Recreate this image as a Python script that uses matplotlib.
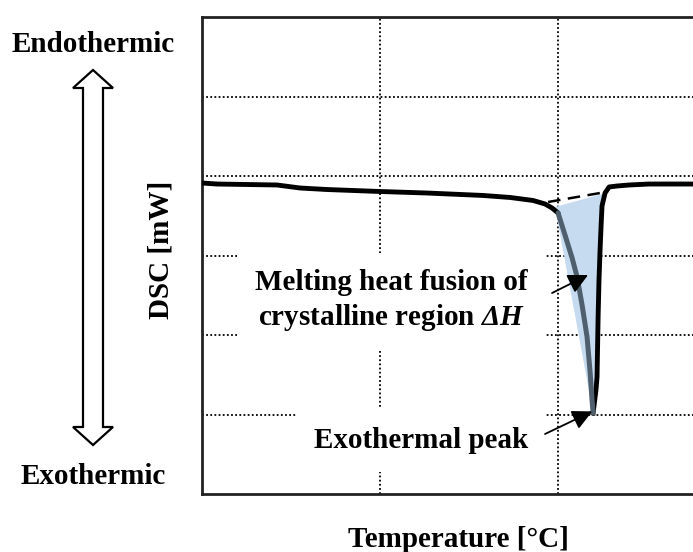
import matplotlib
matplotlib.use("Agg")
import matplotlib.pyplot as plt
from matplotlib.patches import Polygon

plt.rcParams["font.family"] = ["Liberation Serif", "DejaVu Serif"]
plt.rcParams["font.weight"] = "bold"
plt.rcParams["mathtext.fontset"] = "custom"
plt.rcParams["mathtext.it"] = "Liberation Serif:italic:bold"
plt.rcParams["mathtext.rm"] = "Liberation Serif:italic:bold"

# DSC trace (arbitrary temperature / heat-flow units)
baseline_T = [0.000, 0.084, 0.421, 0.551, 0.702, 1.000, 1.264, 1.579, 1.730, 1.860, 1.927, 1.966, 2.000]
baseline_Q = [3.912, 3.899, 3.887, 3.849, 3.830, 3.805, 3.786, 3.755, 3.730, 3.692, 3.648, 3.598, 3.535]

onset_T = [2.000, 2.039, 2.079, 2.107, 2.135, 2.163, 2.180, 2.191, 2.197]
onset_Q = [3.535, 3.258, 2.969, 2.730, 2.377, 1.975, 1.535, 1.182, 1.019]

return_T = [2.197, 2.213, 2.219, 2.225, 2.230, 2.236, 2.242, 2.247, 2.264, 2.287, 2.331, 2.399, 2.511, 2.876]
return_Q = [1.019, 1.308, 1.472, 2.226, 2.692, 3.069, 3.384, 3.623, 3.786, 3.862, 3.874, 3.887, 3.899, 3.899]

# extrapolated baseline across the melting peak
tangent_T = [1.944, 2.236]
tangent_Q = [3.673, 3.786]

# enclosed area for the heat of fusion
area_T = [1.983, 2.247, 2.242, 2.230, 2.219, 2.197]
area_Q = [3.610, 3.774, 3.384, 2.692, 1.472, 1.019]

grid_T = [1, 2]
grid_Q = [1, 2, 3, 4, 5]

W, H = 693, 552
fig = plt.figure(figsize=(W / 100, H / 100), dpi=100)
ax = fig.add_axes([202 / W, (H - 494) / H, (714 - 202) / W, 477 / H])
ax.set_xlim(0, 2.876)
ax.set_ylim(0, 6)
ax.set_xticks([])
ax.set_yticks([])
for s in ax.spines.values():
    s.set_linewidth(2.0)
    s.set_color("#222222")

dot = (0, (1.0, 1.3))
for t in grid_T:
    ax.axvline(t, color="black", lw=1.3, ls=dot, zorder=1)
for q in grid_Q:
    ax.axhline(q, color="black", lw=1.3, ls=dot, zorder=1)

ax.fill(area_T, area_Q, color="#c6dbef", lw=0, zorder=2)
ax.plot(tangent_T, tangent_Q, color="black", lw=1.8, ls=(0, (5, 3)), zorder=3)
ax.plot(baseline_T, baseline_Q, color="black", lw=3.5, solid_capstyle="round", zorder=4)
ax.plot(return_T, return_Q, color="black", lw=3.5, solid_joinstyle="round", zorder=4)
ax.plot(onset_T, onset_Q, color="#4f5f6e", lw=3.6, solid_capstyle="round", zorder=5)


def px(x, y):
    return ((x - 202) / 178, (494 - y) / 79.5)


fs = 21
box = dict(boxstyle="square,pad=0.62", fc="white", ec="none")
ax.text(*px(391, 301), "Melting heat fusion of\ncrystalline region $ΔH$",
        ha="center", va="center", fontsize=fs, fontweight="bold",
        linespacing=1.22, bbox=box, zorder=6)
ax.text(*px(421, 440), "Exothermal peak", ha="center", va="center",
        fontsize=fs, fontweight="bold", bbox=box, zorder=6)

arrow = dict(arrowstyle="-|>,head_length=0.6,head_width=0.3", color="black",
             lw=1.3, mutation_scale=20, shrinkA=0, shrinkB=0)
ax.annotate("", xy=px(588, 275), xytext=px(552, 293), arrowprops=arrow, zorder=7)
ax.annotate("", xy=(onset_T[-1] - 0.005, onset_Q[-1] + 0.02), xytext=px(545, 434),
            arrowprops=arrow, zorder=7)

# hollow double arrow for heat-flow direction
cx = 93
pts = [(cx, 70), (cx + 20, 88), (cx + 10, 88), (cx + 10, 427), (cx + 20, 427),
       (cx, 445), (cx - 20, 427), (cx - 10, 427), (cx - 10, 88), (cx - 20, 88)]
fig.patches.append(Polygon([(x / W, 1 - y / H) for x, y in pts], closed=True,
                           fc="white", ec="black", lw=1.6,
                           transform=fig.transFigure, figure=fig))

fig.text(93.5 / W, 1 - 52 / H, "Endothermic", ha="center", va="baseline",
         fontsize=fs, fontweight="bold")
fig.text(93.5 / W, 1 - 484 / H, "Exothermic", ha="center", va="baseline",
         fontsize=fs, fontweight="bold")
fig.text(161 / W, 1 - 250 / H, "DSC [mW]", ha="center", va="center",
         rotation=90, fontsize=fs, fontweight="bold")
fig.text(458 / W, 1 - 547 / H, "Temperature [°C]", ha="center", va="baseline",
         fontsize=fs, fontweight="bold")

fig.savefig("out.png", dpi=100)
